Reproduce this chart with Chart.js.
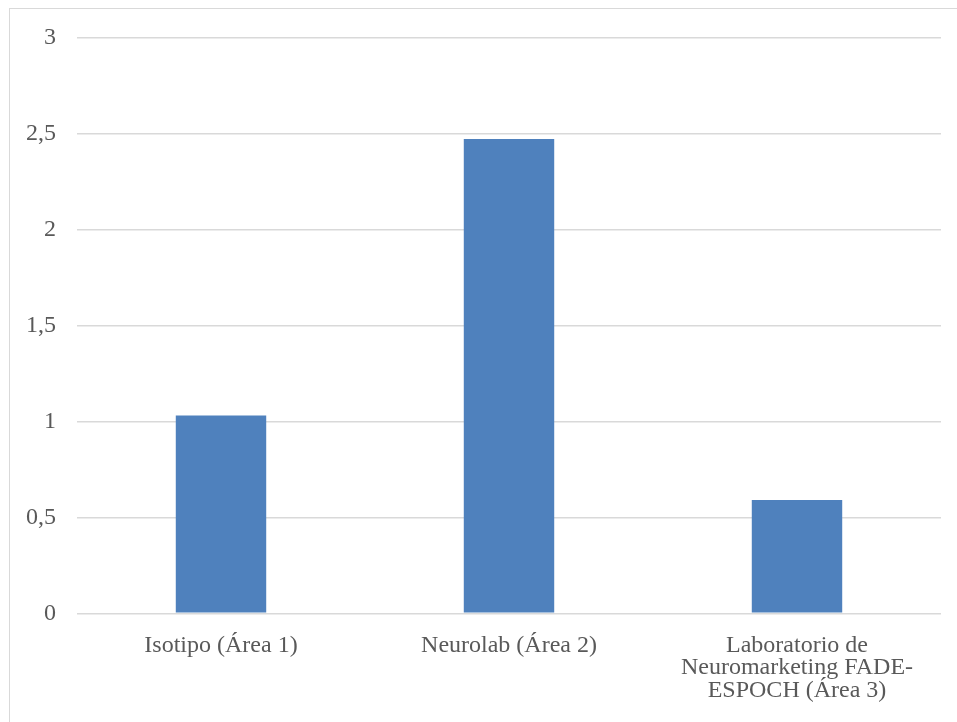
<!DOCTYPE html>
<html>
<head>
<meta charset="utf-8">
<script src="https://cdn.jsdelivr.net/npm/chart.js@4/dist/chart.umd.min.js"></script>
<style>
  html, body { margin: 0; padding: 0; background: #ffffff; }
  #wrap { position: relative; width: 957px; height: 722px; overflow: hidden; }
  #frame { position: absolute; left: 9px; top: 8px; width: 1000px; height: 800px;
           border: 1px solid #d9d9d9; box-sizing: border-box; }
  canvas { position: absolute; left: 0; top: 0; }
</style>
</head>
<body>
<div id="wrap">
  <div id="frame"></div>
  <canvas id="chart" width="957" height="722"></canvas>
</div>
<script>
// Areas of interest and their measured values
const categories = [
  'Isotipo (Área 1)',
  'Neurolab (Área 2)',
  ['Laboratorio de', 'Neuromarketing FADE-', 'ESPOCH (Área 3)']
];
const values = [1.03, 2.47, 0.59];
const yTickValues = [0, 0.5, 1, 1.5, 2, 2.5, 3];
const yTickLabels = ['0', '0,5', '1', '1,5', '2', '2,5', '3'];

const textFont = { family: '"Liberation Serif", "Times New Roman", serif', size: 24, lineHeight: 0.94 };
const textColor = '#595959';

new Chart(document.getElementById('chart'), {
  type: 'bar',
  data: {
    labels: categories,
    datasets: [{
      data: values,
      backgroundColor: '#4f81bd',
      borderWidth: 0,
      categoryPercentage: 1,
      barPercentage: 0.314
    }]
  },
  options: {
    responsive: false,
    animation: false,
    layout: { padding: { top: 37.3, right: 16, bottom: 0, left: 0 } },
    plugins: { legend: { display: false }, tooltip: { enabled: false } },
    scales: {
      x: {
        grid: { display: false, drawTicks: false },
        border: { display: false },
        ticks: { color: textColor, font: textFont, padding: 21, maxRotation: 0, autoSkip: false },
        afterFit(scale) { scale.height = 108.7; }
      },
      y: {
        min: 0,
        max: 3,
        grid: { color: '#d9d9d9', lineWidth: 1.5, drawTicks: false },
        border: { display: false },
        ticks: {
          stepSize: 0.5,
          color: textColor,
          font: textFont,
          padding: 21,
          callback: (v) => {
            const i = yTickValues.indexOf(v);
            return i >= 0 ? yTickLabels[i] : '';
          }
        },
        afterFit(scale) { scale.width = 77; }
      }
    }
  }
});
</script>
</body>
</html>
